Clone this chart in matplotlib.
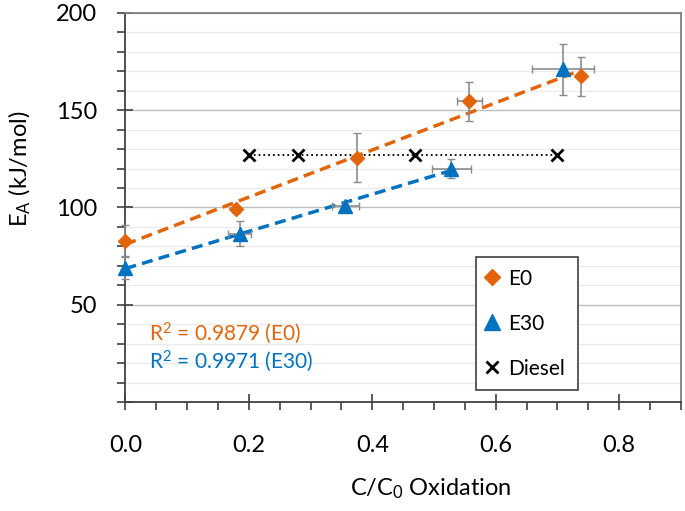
import numpy as np
import matplotlib.pyplot as plt
from matplotlib.ticker import MultipleLocator
from matplotlib.patches import Rectangle

plt.rcParams['font.family'] = ['Lato', 'DejaVu Sans']
plt.rcParams['mathtext.fontset'] = 'custom'
plt.rcParams['mathtext.rm'] = 'Lato'
plt.rcParams['mathtext.it'] = 'Lato'

# E0 data (oxidation fraction vs activation energy)
x_e0 = [0.0, 0.18, 0.375, 0.557, 0.738]
y_e0 = [83, 99, 125.5, 154.5, 167.5]
xerr_e0 = [0, 0, 0, 0.02, 0]
yerr_e0 = [8, 2, 12.5, 10, 10]

# E30 data
x_e30 = [0.0, 0.185, 0.356, 0.528, 0.709]
y_e30 = [69, 86.5, 101, 120, 171]
xerr_e30 = [0, 0.018, 0.022, 0.032, 0.05]
yerr_e30 = [5.5, 6.5, 2, 5, 13]

# Diesel data
x_diesel = [0.2, 0.28, 0.47, 0.70]
y_diesel = [127, 127, 127, 127]

ytick_vals = [0, 50, 100, 150, 200]
ytick_labels = ['', '50', '100', '150', '200']
xtick_vals = [0.0, 0.2, 0.4, 0.6, 0.8]
xtick_labels = ['0.0', '0.2', '0.4', '0.6', '0.8']

orange = '#E2650C'
blue = '#0072C0'
errc = '#8C8C8C'

fig = plt.figure(figsize=(6.85, 5.11), dpi=100)
ax = fig.add_axes([0.183, 0.213, 0.811, 0.762])

# gridlines
ax.yaxis.set_minor_locator(MultipleLocator(10))
ax.xaxis.set_minor_locator(MultipleLocator(0.05))
ax.grid(axis='y', which='minor', color='#EBEBEB', linewidth=0.9)
ax.grid(axis='y', which='major', color='#BFBFBF', linewidth=1.0)
ax.set_axisbelow(True)

# trend lines (E30 fit uses first four points)
p0 = np.polyfit(x_e0, y_e0, 1)
xf0 = np.array([x_e0[0], x_e0[-1]])
ax.plot(xf0, np.polyval(p0, xf0), color=orange, lw=2.5, dashes=(3.2, 1.8), zorder=3)
p30 = np.polyfit(x_e30[:4], y_e30[:4], 1)
xf30 = np.array([x_e30[0], x_e30[3]])
ax.plot(xf30, np.polyval(p30, xf30), color=blue, lw=2.5, dashes=(3.2, 1.8), zorder=3)

# error bars
ax.errorbar(x_e0, y_e0, xerr=xerr_e0, yerr=yerr_e0, fmt='none', ecolor=errc,
            elinewidth=1.2, capsize=3, zorder=4, clip_on=False)
ax.errorbar(x_e30, y_e30, xerr=xerr_e30, yerr=yerr_e30, fmt='none', ecolor=errc,
            elinewidth=1.2, capsize=3, zorder=4, clip_on=False)

# markers
ax.plot(x_e0, y_e0, 'D', color=orange, ms=7.5, ls='none', label='E0', zorder=5, clip_on=False)
ax.plot(x_e30, y_e30, '^', color=blue, ms=10, ls='none', label='E30', zorder=5, clip_on=False)
ax.plot(x_diesel, y_diesel, ':', color='black', lw=1.3, zorder=4)
ax.plot(x_diesel, y_diesel, 'x', color='black', ms=8, mew=2, ls='none', label='Diesel', zorder=5)

ax.set_xlim(0, 0.9)
ax.set_ylim(0, 200)
ax.set_xticks(xtick_vals, xtick_labels)
ax.set_yticks(ytick_vals, ytick_labels)

for s in ['left', 'bottom']:
    ax.spines[s].set_color('#404040')
    ax.spines[s].set_linewidth(1.3)
for s in ['top', 'right']:
    ax.spines[s].set_color('#808080')
    ax.spines[s].set_linewidth(1.3)

ax.tick_params(which='major', direction='inout', length=11, width=1.2, color='#404040',
               labelsize=17)
ax.tick_params(axis='x', which='major', pad=18)
ax.tick_params(axis='y', which='major', pad=15)
ax.tick_params(which='minor', direction='out', length=6, width=1.2, color='#404040')

ax.set_xlabel('C/C$_\\mathregular{0}$ Oxidation', fontsize=17)
ax.set_ylabel('E$_\\mathregular{A}$ (kJ/mol)', fontsize=17)
ax.xaxis.set_label_coords(0.55, -0.19)
ax.yaxis.set_label_coords(-0.167, 0.60)

ax.text(0.042, 0.177, 'R$^\\mathregular{2}$ = 0.9879 (E0)', color=orange, fontsize=15,
        transform=ax.transAxes, va='center')
ax.text(0.042, 0.104, 'R$^\\mathregular{2}$ = 0.9971 (E30)', color=blue, fontsize=15,
        transform=ax.transAxes, va='center')

# legend box
ax.add_patch(Rectangle((0.631, 0.031), 0.184, 0.342, transform=ax.transAxes,
                       facecolor='white', edgecolor='#404040', lw=1.2, zorder=6))
leg = ax.legend(loc='center', bbox_to_anchor=(0.718, 0.202), frameon=False,
                fontsize=15, labelspacing=1.2, handlelength=0.8, handletextpad=0.35,
                markerscale=1.15)
leg.set_zorder(7)

plt.savefig('out.png', dpi=100)
